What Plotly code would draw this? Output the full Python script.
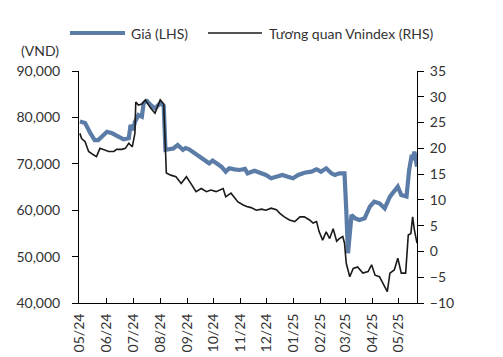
import plotly.graph_objects as go

# ---- Data ----
price_dates = [
    "2024-05-01", "2024-05-07", "2024-05-13", "2024-05-18", "2024-05-22", "2024-05-27",
    "2024-06-01", "2024-06-07", "2024-06-10", "2024-06-14", "2024-06-20", "2024-06-26",
    "2024-06-28", "2024-07-01", "2024-07-03", "2024-07-07", "2024-07-11", "2024-07-13",
    "2024-07-17", "2024-07-21", "2024-07-26", "2024-08-01", "2024-08-05", "2024-08-07",
    "2024-08-11", "2024-08-16", "2024-08-21", "2024-08-27", "2024-08-30", "2024-09-03",
    "2024-09-07", "2024-09-13", "2024-09-21", "2024-09-26", "2024-09-30", "2024-10-04",
    "2024-10-10", "2024-10-15", "2024-10-19", "2024-10-25", "2024-10-31", "2024-11-06",
    "2024-11-09", "2024-11-17", "2024-11-25", "2024-11-30", "2024-12-06", "2024-12-14",
    "2024-12-19", "2024-12-25", "2024-12-31", "2025-01-06", "2025-01-13", "2025-01-21",
    "2025-01-27", "2025-02-01", "2025-02-07", "2025-02-13", "2025-02-17", "2025-02-22",
    "2025-02-28", "2025-03-02", "2025-03-04", "2025-03-08", "2025-03-12", "2025-03-17",
    "2025-03-23", "2025-03-29", "2025-04-03", "2025-04-09", "2025-04-15", "2025-04-21",
    "2025-04-26", "2025-04-30", "2025-05-04", "2025-05-10", "2025-05-13", "2025-05-16",
    "2025-05-17", "2025-05-19", "2025-05-22",
]
price_values = [
    79100, 78800, 76600, 75100, 75100, 76000,
    76900, 76570, 76300, 75840, 75280, 75500,
    78360, 77300, 79000, 80520, 80150, 83040,
    83500, 82670, 81960, 83040, 82500, 73000,
    73130, 73300, 74050, 73000, 73400, 73130,
    72610, 71900, 70820, 70100, 70700, 70100,
    69380, 68300, 69030, 68800, 68670, 68900,
    67950, 68520, 67950, 67590, 66880, 67230,
    67590, 67230, 66880, 67590, 68080, 68300,
    68820, 68300, 69030, 67950, 67590, 67950,
    67950, 60000, 50720, 58970, 58250, 57890,
    58250, 60760, 61840, 61480, 60400, 62930,
    64000, 65070, 63280, 62930, 68670, 71900,
    70820, 72610, 69380,
]

corr_dates = [
    "2024-05-01", "2024-05-03", "2024-05-07", "2024-05-11", "2024-05-17", "2024-05-20",
    "2024-05-24", "2024-05-28", "2024-06-03", "2024-06-09", "2024-06-12", "2024-06-18",
    "2024-06-22", "2024-06-26", "2024-06-30", "2024-07-03", "2024-07-04", "2024-07-07",
    "2024-07-11", "2024-07-15", "2024-07-21", "2024-07-26", "2024-08-01", "2024-08-05",
    "2024-08-08", "2024-08-13", "2024-08-19", "2024-08-25", "2024-08-31", "2024-09-05",
    "2024-09-11", "2024-09-17", "2024-09-23", "2024-09-28", "2024-10-04", "2024-10-12",
    "2024-10-15", "2024-10-21", "2024-10-29", "2024-11-04", "2024-11-08", "2024-11-13",
    "2024-11-19", "2024-11-25", "2024-11-30", "2024-12-06", "2024-12-12", "2024-12-16",
    "2024-12-21", "2024-12-27", "2025-01-02", "2025-01-08", "2025-01-13", "2025-01-19",
    "2025-01-23", "2025-01-27", "2025-01-30", "2025-02-03", "2025-02-07", "2025-02-11",
    "2025-02-15", "2025-02-19", "2025-02-22", "2025-02-26", "2025-02-28", "2025-03-02",
    "2025-03-06", "2025-03-10", "2025-03-15", "2025-03-21", "2025-03-27", "2025-03-31",
    "2025-04-04", "2025-04-09", "2025-04-13", "2025-04-18", "2025-04-21", "2025-04-26",
    "2025-04-30", "2025-05-04", "2025-05-09", "2025-05-12", "2025-05-15", "2025-05-17",
    "2025-05-19", "2025-05-22",
]
corr_values = [
    22.9, 21.9, 21.3, 19.4, 18.7, 18.4,
    20.0, 19.7, 19.4, 19.4, 19.8, 19.8,
    20.0, 21.0, 20.3, 22.9, 29.0, 28.4,
    28.6, 29.4, 27.8, 26.8, 29.4, 28.6,
    15.2, 14.8, 14.5, 13.2, 14.5, 13.2,
    11.6, 12.2, 11.6, 11.9, 11.6, 12.2,
    10.6, 11.3, 9.6, 9.0, 8.7, 8.5,
    8.0, 8.2, 8.0, 8.4, 8.1, 7.4,
    6.7, 6.1, 5.8, 6.7, 6.7, 6.1,
    5.5, 5.8, 3.8, 2.2, 3.8, 2.5,
    4.4, 2.0, 2.5, 2.9, 1.6, -2.3,
    -4.9, -3.3, -3.0, -4.2, -3.9, -2.6,
    -4.6, -4.9, -6.2, -7.8, -4.2, -3.6,
    -1.3, -4.2, -4.2, 3.2, 3.5, 6.7,
    4.2, 1.6,
]

series_names = ["Giá (LHS)", "Tương quan Vnindex (RHS)"]
left_unit = "(VND)"

BLUE = "#5a7ca6"
BLACK = "#1a1a1a"
TEXT = "#333333"
FONT = "Lato"

fig = go.Figure()
fig.add_trace(go.Scatter(x=price_dates, y=price_values, mode="lines",
                         line=dict(color=BLUE, width=4.2), name=series_names[0],
                         yaxis="y", showlegend=False))
fig.add_trace(go.Scatter(x=corr_dates, y=corr_values, mode="lines",
                         line=dict(color=BLACK, width=1.6), name=series_names[1],
                         yaxis="y2", showlegend=False))

yl = [40000, 90000]
yr = [-10, 35]

fig.update_layout(
    width=503, height=357,
    margin=dict(l=79, r=86, t=71, b=54, autoexpand=False),
    paper_bgcolor="white", plot_bgcolor="white",
    font=dict(family=FONT, size=14, color=TEXT),
    xaxis=dict(type="date", range=["2024-04-30", "2025-05-22"],
               tickformat="%m/%y", dtick="M1", tick0="2024-05-01",
               tickangle=-90, ticks="inside", ticklen=5, tickcolor="black",
               showline=True, linecolor="black", linewidth=1,
               showgrid=False, zeroline=False, ticklabelstandoff=4,
               automargin=False),
    yaxis=dict(range=yl, dtick=10000, tickformat=",", showgrid=False,
               zeroline=False, showline=True, linecolor="black", linewidth=1,
               ticks="outside", ticklen=6, tickcolor="black",
               ticklabelstandoff=9, automargin=False),
    yaxis2=dict(range=yr, dtick=5, overlaying="y", side="right",
                showgrid=False, zeroline=False, showline=True,
                linecolor="black", linewidth=1, ticks="outside", ticklen=6,
                tickcolor="black", ticklabelstandoff=3, automargin=False),
    yaxis3=dict(range=yl, dtick=10000, overlaying="y", side="left",
                showgrid=False, zeroline=False, showline=False,
                ticks="inside", ticklen=6, tickcolor="black",
                showticklabels=False, automargin=False),
    yaxis4=dict(range=yr, dtick=5, overlaying="y", side="right",
                showgrid=False, zeroline=False, showline=False,
                ticks="inside", ticklen=6, tickcolor="black",
                showticklabels=False, automargin=False),
)

# manual legend (paper coords derived from the plot box 79..417 x 71..303)
def px(x):
    return (x - 79) / 338.0

def py(y):
    return (303 - y) / 232.0

fig.add_shape(type="line", xref="paper", yref="paper",
              x0=px(70), x1=px(125), y0=py(33), y1=py(33),
              line=dict(color=BLUE, width=4.2))
fig.add_shape(type="line", xref="paper", yref="paper",
              x0=px(208), x1=px(262), y0=py(33), y1=py(33),
              line=dict(color=BLACK, width=1.6))
fig.add_annotation(text=series_names[0], xref="paper", yref="paper",
                   x=px(129), y=py(33), xanchor="left", yanchor="middle",
                   showarrow=False, font=dict(size=14, color=TEXT))
fig.add_annotation(text=series_names[1], xref="paper", yref="paper",
                   x=px(267), y=py(33), xanchor="left", yanchor="middle",
                   showarrow=False, font=dict(size=14, color=TEXT))
fig.add_annotation(text=left_unit, xref="paper", yref="paper",
                   x=px(61), y=py(50), xanchor="right", yanchor="middle",
                   showarrow=False, font=dict(size=14, color=TEXT))

fig.write_html("out.html", config={"displayModeBar": False},
               post_script="document.body.style.margin='0';document.body.style.padding='0';")
